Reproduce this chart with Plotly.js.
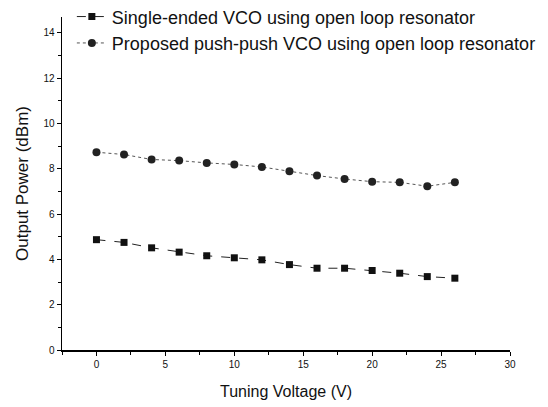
<!DOCTYPE html>
<html>
<head>
<meta charset="utf-8">
<script src="https://cdn.plot.ly/plotly-3.0.1.min.js"></script>
<style>html,body{margin:0;padding:0;background:#fff}#chart{width:548px;height:407px}</style>
</head>
<body>
<div id="chart"></div>
<script>
const voltage = [0, 2, 4, 6, 8, 10, 12, 14, 16, 18, 20, 22, 24, 26];
const singleEnded = [4.87, 4.75, 4.51, 4.32, 4.16, 4.07, 3.98, 3.77, 3.61, 3.61, 3.51, 3.39, 3.24, 3.17];
const pushPush = [8.73, 8.63, 8.41, 8.36, 8.26, 8.19, 8.08, 7.89, 7.70, 7.55, 7.43, 7.40, 7.23, 7.40];
const seriesNames = ["Single-ended VCO using open loop resonator", "Proposed push-push VCO using open loop resonator"];
const xTickVals = [0, 5, 10, 15, 20, 25, 30];
const yTickVals = [0, 2, 4, 6, 8, 10, 12, 14];

const FONT = 'Liberation Sans, Arial, Helvetica, sans-serif';

const traces = [
  {x: voltage, y: singleEnded, name: seriesNames[0], mode: 'lines+markers',
   line: {color: '#222', width: 1, dash: 'dash'},
   marker: {symbol: 'square', size: 7, color: '#111'}},
  {x: voltage, y: pushPush, name: seriesNames[1], mode: 'lines+markers',
   line: {color: '#555', width: 1, dash: 'dot'},
   marker: {symbol: 'circle', size: 8, color: '#222'}}
];

const axisCommon = {
  showgrid: false, zeroline: false, showline: true, linecolor: '#000', linewidth: 1.5,
  ticks: 'outside', ticklen: 4, tickwidth: 1, tickcolor: '#000', automargin: false,
  tickfont: {family: FONT, size: 10, color: '#111'}
};

const layout = {
  width: 548, height: 407,
  margin: {l: 62, r: 38, t: 17, b: 57, autoexpand: false},
  paper_bgcolor: '#fff', plot_bgcolor: '#fff',
  showlegend: true,
  legend: {x: 0.022, y: 1.056, xanchor: 'left', yanchor: 'top', bgcolor: 'rgba(0,0,0,0)',
    font: {family: FONT, size: 18, color: '#111'}, itemwidth: 30, tracegroupgap: 0},
  xaxis: Object.assign({}, axisCommon, {
    range: [-2.5, 30], tickvals: xTickVals,
    minor: {dtick: 2.5, tick0: 0, ticks: 'outside', ticklen: 3, tickcolor: '#000'},
    title: {text: 'Tuning Voltage (V)', font: {family: FONT, size: 16, color: '#111'}, standoff: 17}
  }),
  yaxis: Object.assign({}, axisCommon, {
    range: [0, 14.7], tickvals: yTickVals,
    minor: {dtick: 1, tick0: 0, ticks: 'outside', ticklen: 3, tickcolor: '#000'},
    title: {text: 'Output Power (dBm)\u00a0\u00a0\u00a0\u00a0', font: {family: FONT, size: 17, color: '#111'}, standoff: 10}
  })
};

Plotly.newPlot('chart', traces, layout, {displayModeBar: false, staticPlot: true});
</script>
</body>
</html>
